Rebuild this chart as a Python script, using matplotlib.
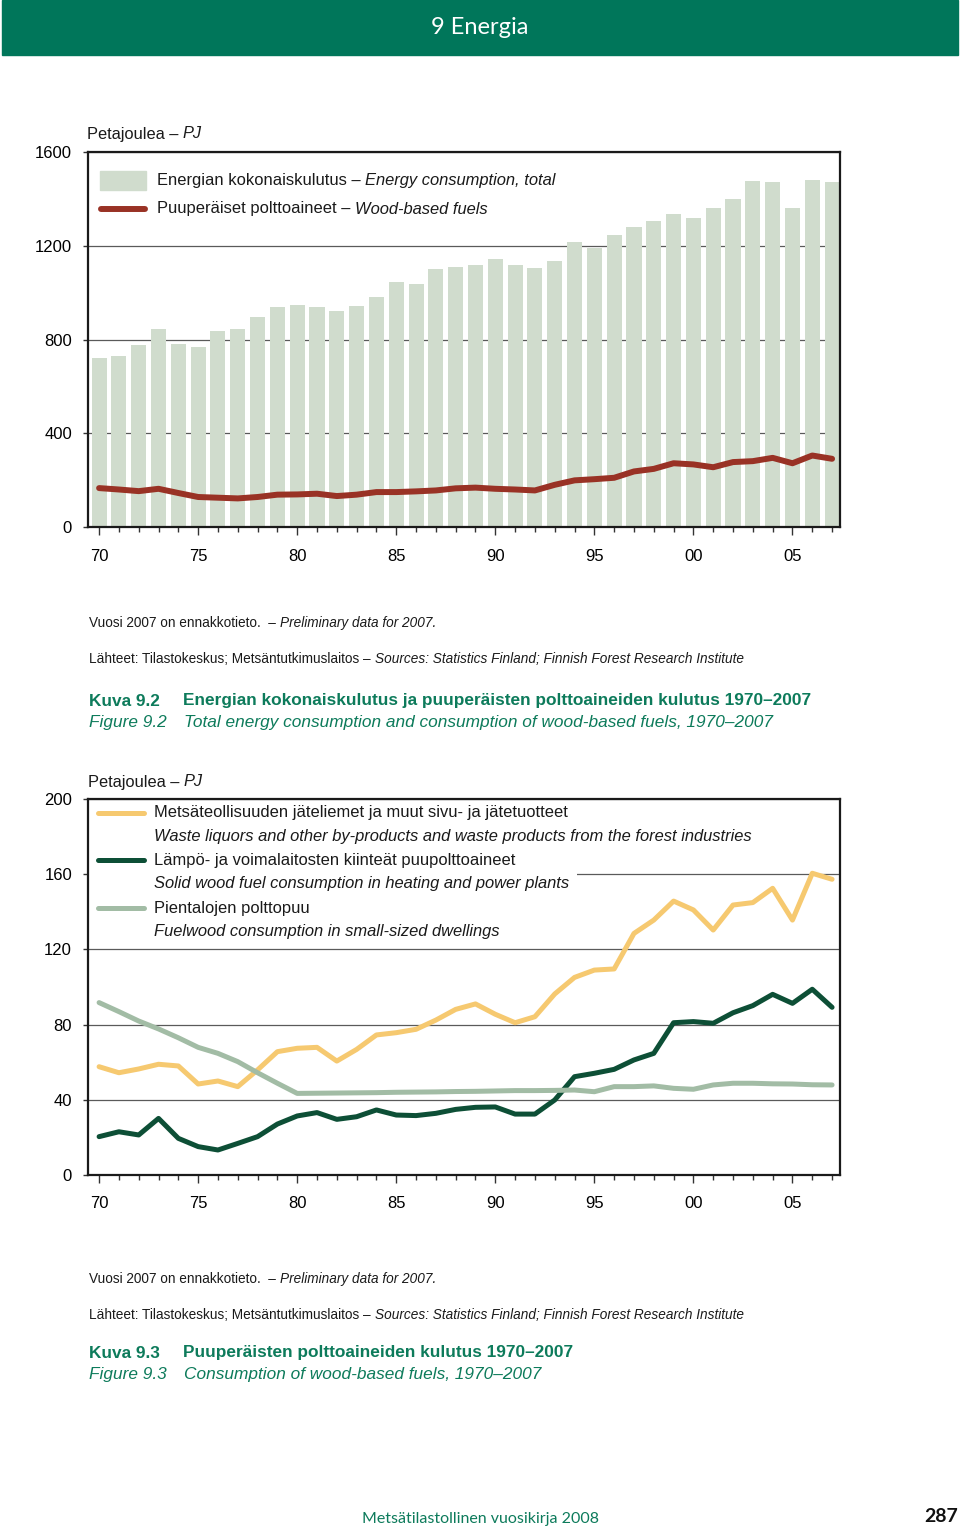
import matplotlib
matplotlib.use("Agg")
import matplotlib.pyplot as plt
from matplotlib.patches import Rectangle
from matplotlib.lines import Line2D
from matplotlib.ticker import MultipleLocator

# ---- data ----
years = list(range(1970, 2008))

# Kuva 9.2, PJ
total_energy = [720, 728, 776, 845, 781, 769, 835, 845, 895, 939,
                946, 939, 921, 942, 980, 1047, 1037, 1099, 1111, 1116,
                1143, 1119, 1105, 1136, 1216, 1189, 1248, 1282, 1304, 1335,
                1317, 1360, 1400, 1475, 1471, 1360, 1479, 1471]
wood_fuels = [166, 160, 153, 163, 145, 128, 125, 122, 128, 138,
              139, 142, 132, 138, 149, 149, 152, 156, 165, 168,
              163, 160, 156, 180, 199, 204, 210, 237, 248, 272,
              267, 255, 277, 281, 295, 272, 305, 291]

# Kuva 9.3, PJ
waste_liquors = [57.6, 54.4, 56.4, 58.9, 58.0, 48.4, 50.0, 47.0, 55.9, 65.6,
                 67.4, 67.9, 60.6, 66.8, 74.5, 75.7, 77.5, 82.4, 88.1, 91.0,
                 85.5, 81.0, 84.2, 96.3, 105.1, 109.0, 109.6, 128.5, 135.6, 145.7,
                 141.0, 130.3, 143.6, 144.9, 152.5, 135.6, 160.5, 157.3]
solid_wood_plants = [20.4, 23.0, 21.3, 30.1, 19.5, 15.1, 13.3, 16.8, 20.4, 27.1,
                     31.4, 33.2, 29.6, 31.0, 34.6, 31.9, 31.6, 32.8, 34.9, 36.0,
                     36.2, 32.4, 32.4, 39.9, 52.3, 54.1, 56.2, 61.2, 64.7, 81.0,
                     81.6, 80.7, 86.3, 90.1, 96.1, 91.3, 98.8, 89.2]
fuelwood_dwellings = [91.7, 86.9, 81.9, 77.7, 73.0, 67.9, 64.7, 60.3, 54.4, 48.8,
                      43.4, 43.5, 43.6, 43.7, 43.8, 44.0, 44.1, 44.2, 44.4, 44.5,
                      44.7, 44.9, 44.9, 45.0, 45.2, 44.3, 47.0, 47.0, 47.4, 46.1,
                      45.6, 47.9, 48.8, 48.8, 48.5, 48.4, 48.0, 47.9]

year_ticks = [1970, 1975, 1980, 1985, 1990, 1995, 2000, 2005]
year_labels = ["70", "75", "80", "85", "90", "95", "00", "05"]

# ---- style ----
NARROW = ["Liberation Sans Narrow", "Liberation Sans", "DejaVu Sans"]
HUMAN = ["Lato", "DejaVu Sans"]
plt.rcParams["font.family"] = NARROW
plt.rcParams["font.size"] = 12

GREEN = "#00765a"
CAP_GREEN = "#0d7b5b"
INK = "#1a1a1a"
BAR = "#d0dccd"
RED = "#993225"
YELLOW = "#f6c970"
DARK = "#0d4f36"
SAGE = "#a2bca5"

FS_TXT = 11.9   # legend text
FS_TICK = 12
FS_UNIT = 11.8
FS_NOTE = 9.8
FS_CAP = 12.4

W, H = 960, 1537
fig = plt.figure(figsize=(W / 100, H / 100), dpi=100)

# full page axes in pixel coords (y down) for all loose text
bg = fig.add_axes([0, 0, 1, 1])
bg.set_xlim(0, W)
bg.set_ylim(H, 0)
bg.axis("off")
PX = bg.transData


def pair(ax, x, y, a, b, size, color=INK, wa="normal", sa="normal",
         wb="normal", sb="italic", gap=3, z=5):
    t1 = ax.text(x, y, a, transform=PX, fontsize=size, color=color,
                 fontweight=wa, fontstyle=sa, va="center", ha="left", zorder=z)
    ax.annotate(b, xy=(1, 0), xycoords=t1, xytext=(gap, 0),
                textcoords="offset points", fontsize=size, color=color,
                fontweight=wb, fontstyle=sb, va="bottom", ha="left",
                zorder=z, annotation_clip=False)
    return t1


def single(ax, x, y, s, size, color=INK, weight="normal", style="normal", z=5):
    return ax.text(x, y, s, transform=PX, fontsize=size, color=color,
                   fontweight=weight, fontstyle=style, va="center", ha="left",
                   zorder=z)


def px_axes(left, top, right, bottom):
    return fig.add_axes([left / W, 1 - bottom / H, (right - left) / W,
                         (bottom - top) / H])


def style_axes(ax, ymax, ystep, xpad):
    ax.set_facecolor("none")
    ax.set_xlim(1969.44, 2007.4)
    ax.set_ylim(0, ymax)
    ax.set_yticks(range(0, ymax + 1, ystep))
    ax.set_xticks(year_ticks)
    ax.set_xticklabels(year_labels)
    ax.xaxis.set_minor_locator(MultipleLocator(1))
    ax.set_axisbelow(True)
    ax.yaxis.grid(True, color="#5a5a5a", lw=0.9)
    for side in ["left", "right", "top", "bottom"]:
        ax.spines[side].set_linewidth(1.6)
        ax.spines[side].set_color(INK)
    ax.tick_params(axis="x", which="major", length=6, width=1.0,
                   color="#333333", pad=xpad, labelsize=FS_TICK)
    ax.tick_params(axis="x", which="minor", length=3.5, width=1.0,
                   color="#333333")
    ax.tick_params(axis="y", length=3.5, width=1.0, color="#333333",
                   pad=8, labelsize=FS_TICK)


# ---- header ----
bg.add_patch(Rectangle((2, 0), 956, 55, color=GREEN, zorder=1))
bg.text(480, 28, "9 Energia", color="white", fontsize=17, family=HUMAN,
        ha="center", va="center", zorder=2)

# ---- Kuva 9.2 ----
ax1 = px_axes(88, 152, 840, 527)
style_axes(ax1, 1600, 400, 10)
ax1.bar(years, total_energy, width=0.76, color=BAR, zorder=2)
ax1.plot(years, wood_fuels, color=RED, lw=4.3, solid_capstyle="round",
         solid_joinstyle="round", zorder=3)

pair(bg, 87, 134, "Petajoulea –", "PJ", FS_UNIT)
ax1.add_artist(Rectangle((100, 171), 46, 19, transform=PX, color=BAR,
                         clip_on=False, zorder=4))
ax1.add_artist(Line2D([101, 145], [209, 209], transform=PX, color=RED, lw=4.3,
                      solid_capstyle="round", clip_on=False, zorder=4))
pair(ax1, 157, 180, "Energian kokonaiskulutus –", "Energy consumption, total", FS_TXT)
pair(ax1, 157, 209, "Puuperäiset polttoaineet –", "Wood-based fuels", FS_TXT)

pair(bg, 89, 623, "Vuosi 2007 on ennakkotieto.  –", "Preliminary data for 2007.", FS_NOTE)
pair(bg, 89, 659, "Lähteet: Tilastokeskus; Metsäntutkimuslaitos –",
     "Sources: Statistics Finland; Finnish Forest Research Institute", FS_NOTE)
single(bg, 89, 701, "Kuva 9.2", FS_CAP, CAP_GREEN, weight="bold")
single(bg, 183, 701,
       "Energian kokonaiskulutus ja puuperäisten polttoaineiden kulutus 1970–2007",
       FS_CAP, CAP_GREEN, weight="bold")
single(bg, 89, 723, "Figure 9.2", FS_CAP, CAP_GREEN, style="italic")
single(bg, 184, 723,
       "Total energy consumption and consumption of wood-based fuels, 1970–2007",
       FS_CAP, CAP_GREEN, style="italic")

# ---- Kuva 9.3 ----
ax2 = px_axes(88, 799, 840, 1175)
style_axes(ax2, 200, 40, 9)
ax2.plot(years, waste_liquors, color=YELLOW, lw=3.6, solid_joinstyle="round",
         solid_capstyle="round", zorder=3)
ax2.plot(years, solid_wood_plants, color=DARK, lw=3.6, solid_joinstyle="round",
         solid_capstyle="round", zorder=3)
ax2.plot(years, fuelwood_dwellings, color=SAGE, lw=3.6, solid_joinstyle="round",
         solid_capstyle="round", zorder=3)

pair(bg, 88, 782, "Petajoulea –", "PJ", FS_UNIT)
ax2.add_artist(Rectangle((89, 801), 488, 143, transform=PX, facecolor="white",
                         edgecolor="none", clip_on=False, zorder=1.5))
legend_rows = [
    (813, YELLOW, "Metsäteollisuuden jäteliemet ja muut sivu- ja jätetuotteet",
     "Waste liquors and other by-products and waste products from the forest industries"),
    (860, DARK, "Lämpö- ja voimalaitosten kiinteät puupolttoaineet",
     "Solid wood fuel consumption in heating and power plants"),
    (908, SAGE, "Pientalojen polttopuu",
     "Fuelwood consumption in small-sized dwellings"),
]
for y, col, fi, en in legend_rows:
    ax2.add_artist(Line2D([98, 144], [y, y], transform=PX, color=col, lw=3.6,
                          solid_capstyle="round", clip_on=False, zorder=4))
    single(ax2, 154, y, fi, FS_TXT)
    single(ax2, 154, y + 23.5, en, FS_TXT, style="italic")

pair(bg, 89, 1279, "Vuosi 2007 on ennakkotieto.  –", "Preliminary data for 2007.", FS_NOTE)
pair(bg, 89, 1315, "Lähteet: Tilastokeskus; Metsäntutkimuslaitos –",
     "Sources: Statistics Finland; Finnish Forest Research Institute", FS_NOTE)
single(bg, 89, 1353, "Kuva 9.3", FS_CAP, CAP_GREEN, weight="bold")
single(bg, 183, 1353, "Puuperäisten polttoaineiden kulutus 1970–2007",
       FS_CAP, CAP_GREEN, weight="bold")
single(bg, 89, 1375, "Figure 9.3", FS_CAP, CAP_GREEN, style="italic")
single(bg, 184, 1375, "Consumption of wood-based fuels, 1970–2007",
       FS_CAP, CAP_GREEN, style="italic")

# ---- footer ----
bg.text(480, 1519, "Metsätilastollinen vuosikirja 2008", color=CAP_GREEN,
        fontsize=11.5, family=HUMAN, ha="center", va="center")
bg.text(958, 1517, "287", color="#111111", fontsize=14, family=HUMAN,
        fontweight="bold", ha="right", va="center")

fig.savefig("out.png", dpi=100)
